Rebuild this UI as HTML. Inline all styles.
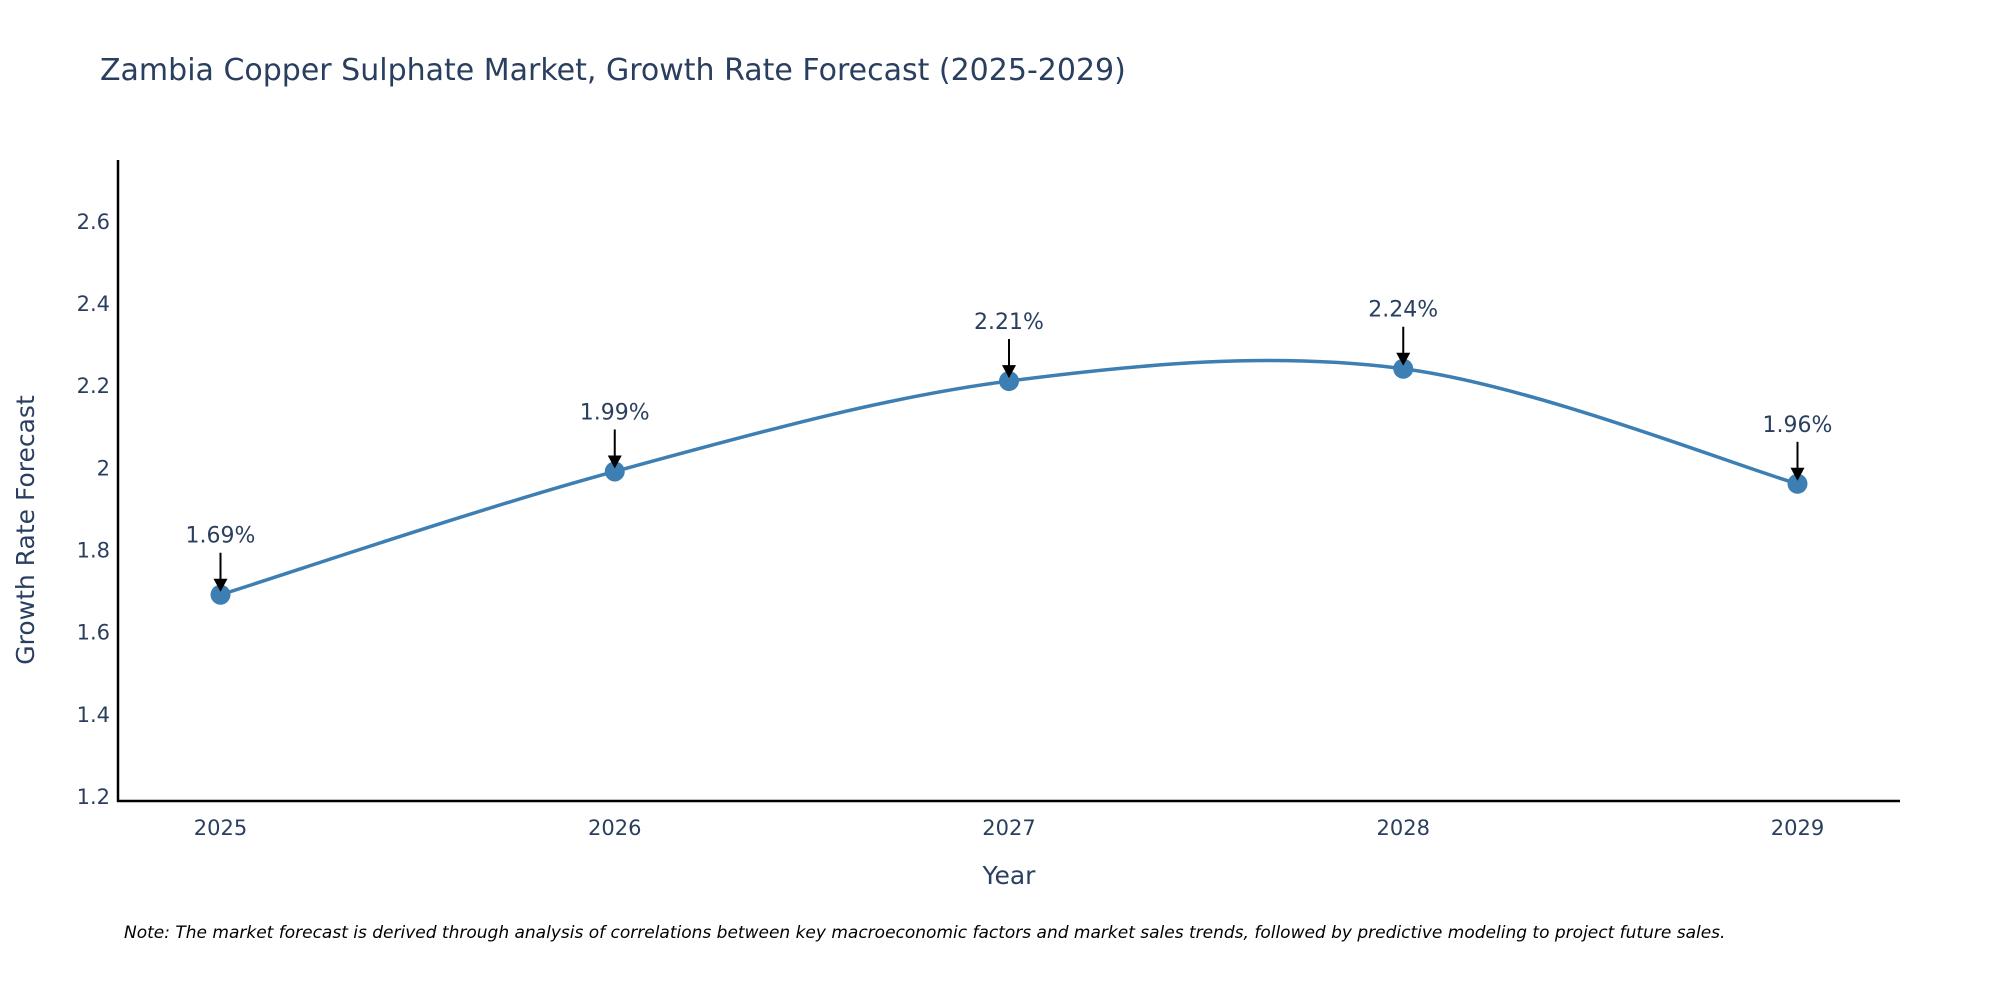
<!DOCTYPE html>
<html><head><meta charset="utf-8"><style>
body{margin:0;background:#fff;}
svg text{font-family:"DejaVu Sans","Liberation Sans",sans-serif;}
</style></head><body>
<svg id="chart" width="2000" height="1000" xmlns="http://www.w3.org/2000/svg">
<rect width="2000" height="1000" fill="#fff"/>
<text x="100" y="80" font-size="30" fill="#2a3f5f">Zambia Copper Sulphate Market, Growth Rate Forecast (2025-2029)</text>
<g id="yticks"></g>
<g id="xticks"></g>
<line x1="118" y1="160" x2="118" y2="802" stroke="#000" stroke-width="2.5"/>
<line x1="117" y1="801" x2="1900" y2="801" stroke="#000" stroke-width="2.5"/>
<text transform="translate(34,530) rotate(-90)" text-anchor="middle" font-size="25" fill="#2a3f5f">Growth Rate Forecast</text>
<text x="1009" y="884" text-anchor="middle" font-size="25" fill="#2a3f5f">Year</text>
<path id="line" fill="none" stroke="#3d7fb3" stroke-width="3.5"/>
<g id="marks"></g>
<text x="124" y="938" font-size="17" font-style="italic" fill="#000">Note: The market forecast is derived through analysis of correlations between key macroeconomic factors and market sales trends, followed by predictive modeling to project future sales.</text>
</svg>
<script>
const years = [2025, 2026, 2027, 2028, 2029];
const growth = [1.69, 1.99, 2.21, 2.24, 1.96];
const labels = ["1.69%", "1.99%", "2.21%", "2.24%", "1.96%"];
const yTicks = [1.2, 1.4, 1.6, 1.8, 2, 2.2, 2.4, 2.6];

const NS = "http://www.w3.org/2000/svg";
const xMin = 2024.74, xMax = 2029.26, px0 = 118, px1 = 1900;
const yMin = 1.188, yMax = 2.748, py0 = 801, py1 = 160;
const X = v => px0 + (v - xMin) / (xMax - xMin) * (px1 - px0);
const Y = v => py0 - (v - yMin) / (yMax - yMin) * (py0 - py1);
function mk(tag, attrs, parent) {
  const e = document.createElementNS(NS, tag);
  for (const k in attrs) e.setAttribute(k, attrs[k]);
  parent.appendChild(e);
  return e;
}
const yg = document.getElementById('yticks');
yTicks.forEach(t => {
  const e = mk('text', {x: 110, y: Y(t) + 8, 'text-anchor': 'end', 'font-size': 21, fill: '#2a3f5f'}, yg);
  
  
  e.textContent = String(t);
});
const xg = document.getElementById('xticks');
years.forEach(t => {
  const e = mk('text', {x: X(t), y: 835, 'text-anchor': 'middle', 'font-size': 21, fill: '#2a3f5f'}, xg);
  
  
  e.textContent = String(t);
});
const pts = years.map((y, i) => [X(y), Y(growth[i])]);
let d = `M${pts[0][0]},${pts[0][1]}`;
const s = 0.5;
for (let i = 0; i < pts.length - 1; i++) {
  const p0 = pts[Math.max(i - 1, 0)], p1 = pts[i], p2 = pts[i + 1], p3 = pts[Math.min(i + 2, pts.length - 1)];
  const c1 = [p1[0] + (p2[0] - p0[0]) * s / 3, p1[1] + (p2[1] - p0[1]) * s / 3];
  const c2 = [p2[0] - (p3[0] - p1[0]) * s / 3, p2[1] - (p3[1] - p1[1]) * s / 3];
  d += ` C${c1[0]},${c1[1]} ${c2[0]},${c2[1]} ${p2[0]},${p2[1]}`;
}
document.getElementById('line').setAttribute('d', d);
const mg = document.getElementById('marks');
pts.forEach((p, i) => {
  const c = mk('circle', {cx: p[0], cy: p[1], r: 10, fill: '#3d7fb3'}, mg);
  
  
  const ln = mk('line', {x1: p[0], y1: p[1] - 42, x2: p[0], y2: p[1] - 14, stroke: '#000', 'stroke-width': 2}, mg);
  
  
  const ar = mk('polygon', {points: `${p[0]-7},${p[1]-16} ${p[0]+7},${p[1]-16} ${p[0]},${p[1]-3}`, fill: '#000'}, mg);
  
  
  const t = mk('text', {x: p[0], y: p[1] - 52, 'text-anchor': 'middle', 'font-size': 22, fill: '#2a3f5f'}, mg);
  
  
  t.textContent = labels[i];
});
</script>
</body></html>
